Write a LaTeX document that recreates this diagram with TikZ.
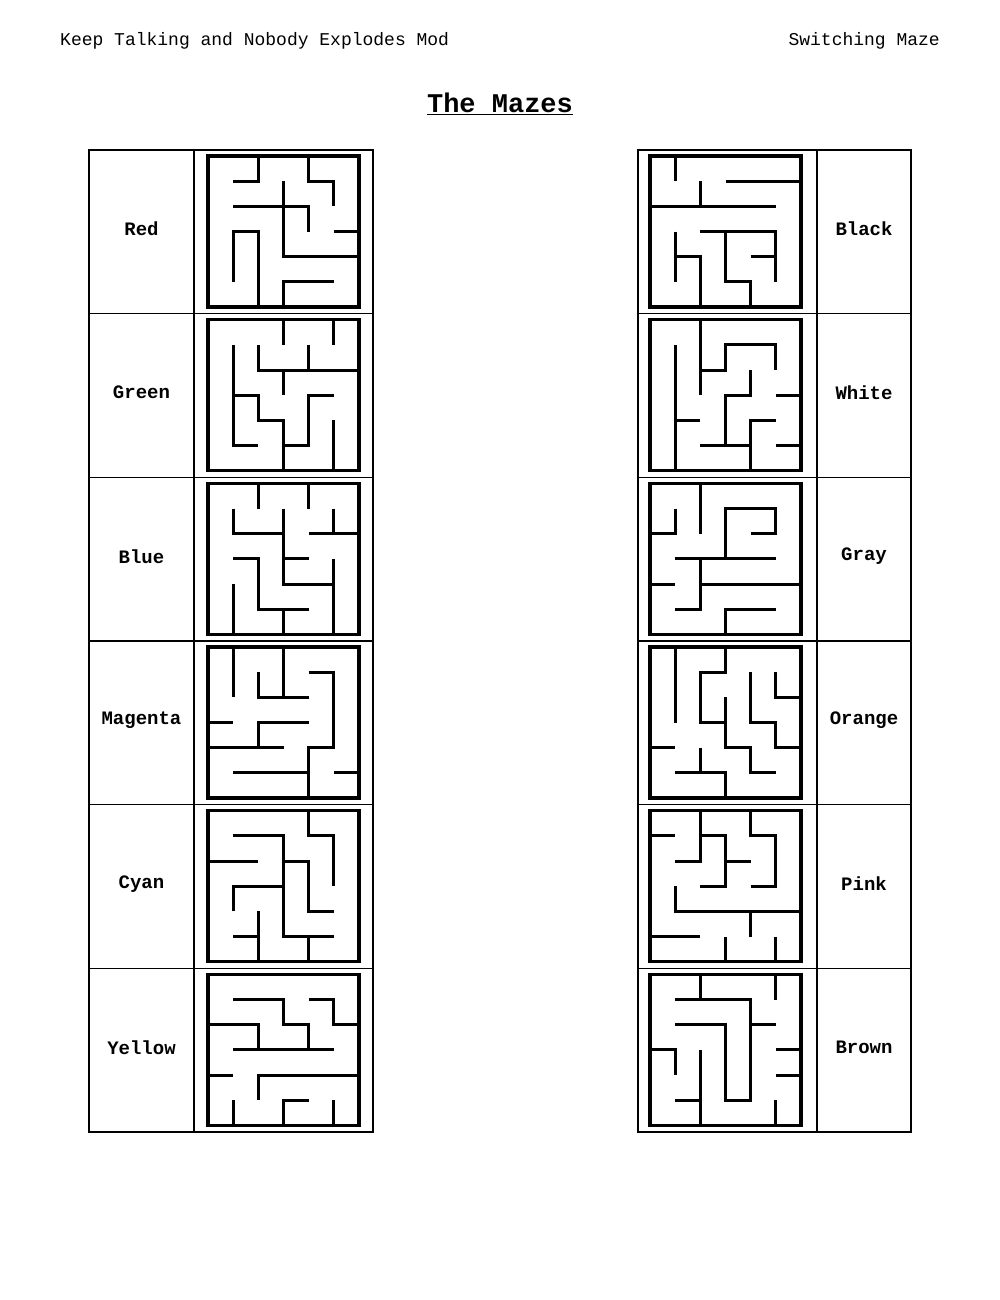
\documentclass[tikz,border=0pt]{standalone}
\usepackage{fontspec}
\setmainfont{Liberation Mono}
\begin{document}
\begin{tikzpicture}[x=1pt,y=-1pt,
  tbl/.style={line width=1.4pt},
  wall/.style={line width=3pt,line join=miter},
  border/.style={line width=3.4pt},
  hdr/.style={inner sep=0pt,font=\fontsize{18}{20}\selectfont},
  lbl/.style={inner sep=0pt,font=\fontsize{19}{21}\selectfont\bfseries},
  ttl/.style={inner sep=0pt,font=\fontsize{27}{30}\selectfont\bfseries}]
\useasboundingbox (0,0) rectangle (1000,1300);
\fill[white] (0,0) rectangle (1000,1300);
\newcommand\mz[3]{%
  \begin{scope}[shift={(#1,#2)},x=25.167pt,y=-25.167pt]
    \draw[wall] #3;
    \draw[border] (0,0) rectangle (6,6);
  \end{scope}}
% header
\node[hdr,anchor=west] (hl) at (60,41) {Keep Talking and Nobody Explodes Mod};
\node[hdr,anchor=east] (hr) at (940,41) {Switching Maze};
\node[ttl] (title) at (500,104) {\underline{The Mazes}};
% tables
\foreach \x/\xa/\xb in {89/194/373, 638/817/911}{
  \draw[tbl] (\x,150) rectangle (\xb,1132);
  \draw[tbl] (\xa,150) -- (\xa,1132);
  \foreach \i in {1,...,5}{
    \draw[tbl] (\x,150+\i*163.667) -- (\xb,150+\i*163.667);
  }
}
% labels
\node[lbl] (red) at (141.5,229) {Red};
\node[lbl] (green) at (141.5,392.7) {Green};
\node[lbl] (blue) at (141.5,556.3) {Blue};
\node[lbl] (magenta) at (141.5,720) {Magenta};
\node[lbl] (cyan) at (141.5,883.7) {Cyan};
\node[lbl] (yellow) at (141.5,1047.3) {Yellow};
\node[lbl] (black) at (864,229) {Black};
\node[lbl] (white) at (864,392.7) {White};
\node[lbl] (gray) at (864,556.3) {Gray};
\node[lbl] (orange) at (864,720) {Orange};
\node[lbl] (pink) at (864,883.7) {Pink};
\node[lbl] (brown) at (864,1047.3) {Brown};
% Red
\mz{208}{156}{(1,1)--(2,1)--(2,0) (4,0)--(4,1)--(5,1)--(5,2) (3,1)--(3,4)--(6,4)
  (1,2)--(4,2)--(4,3) (5,3)--(6,3) (1,5)--(1,3)--(2,3)--(2,6) (3,6)--(3,5)--(5,5)}
% Green
\mz{208}{319.67}{(3,0)--(3,1) (5,0)--(5,1) (2,1)--(2,2)--(6,2) (4,1)--(4,2)
  (1,1)--(1,5)--(2,5) (3,2)--(3,3) (1,3)--(2,3)--(2,4)--(3,4)--(3,6)
  (5,3)--(4,3)--(4,5)--(3,5) (5,4)--(5,6)}
% Blue
\mz{208}{483.33}{(2,0)--(2,1) (4,0)--(4,1) (1,1)--(1,2)--(3,2) (3,1)--(3,4)--(5,4)
  (3,3)--(4,3) (4,2)--(6,2) (5,1)--(5,2) (1,3)--(2,3)--(2,5)--(4,5)
  (1,4)--(1,6) (3,5)--(3,6) (5,3)--(5,6)}
% Magenta
\mz{208}{647}{(1,0)--(1,2) (3,0)--(3,2) (2,1)--(2,2)--(4,2)
  (4,1)--(5,1)--(5,4)--(4,4)--(4,6) (0,3)--(1,3) (4,3)--(2,3)--(2,4)
  (0,4)--(3,4) (1,5)--(4,5) (5,5)--(6,5)}
% Cyan
\mz{208}{810.67}{(4,0)--(4,1)--(5,1)--(5,3) (1,1)--(3,1)--(3,5)--(5,5) (0,2)--(2,2)
  (3,2)--(4,2)--(4,4)--(5,4) (1,4)--(1,3)--(3,3) (2,4)--(2,6) (1,5)--(2,5) (4,5)--(4,6)}
% Yellow
\mz{208}{974.33}{(1,1)--(3,1)--(3,2)--(4,2)--(4,3) (4,1)--(5,1)--(5,2)--(6,2)
  (0,2)--(2,2)--(2,3) (1,3)--(5,3) (0,4)--(1,4) (2,5)--(2,4)--(6,4)
  (1,5)--(1,6) (3,6)--(3,5)--(4,5) (5,5)--(5,6)}
% Black
\mz{650}{156}{(1,0)--(1,1) (2,1)--(2,2) (3,1)--(6,1) (0,2)--(5,2) (1,3)--(1,5)
  (1,4)--(2,4)--(2,6) (2,3)--(5,3)--(5,5) (3,3)--(3,5)--(4,5)--(4,6) (4,4)--(5,4)}
% White
\mz{650}{319.67}{(2,0)--(2,3) (2,2)--(3,2)--(3,1)--(5,1)--(5,2) (1,1)--(1,6)
  (4,2)--(4,3)--(3,3)--(3,5) (5,3)--(6,3) (1,4)--(2,4) (2,5)--(4,5)
  (5,4)--(4,4)--(4,6) (5,5)--(6,5)}
% Gray
\mz{650}{483.33}{(1,1)--(1,2)--(0,2) (2,0)--(2,2) (4,2)--(5,2)--(5,1)--(3,1)--(3,3)
  (1,3)--(5,3) (1,5)--(2,5)--(2,3) (0,4)--(1,4) (2,4)--(6,4) (3,6)--(3,5)--(5,5)}
% Orange
\mz{650}{647}{(1,0)--(1,3) (3,0)--(3,1)--(2,1)--(2,3)--(3,3)
  (3,2)--(3,4)--(4,4)--(4,5)--(5,5) (4,1)--(4,3)--(5,3)--(5,4)--(6,4)
  (5,1)--(5,2)--(6,2) (0,4)--(1,4) (2,4)--(2,5) (1,5)--(3,5)--(3,6)}
% Pink
\mz{650}{810.67}{(0,1)--(1,1) (2,0)--(2,2)--(1,2) (2,1)--(3,1)--(3,3)--(2,3) (3,2)--(4,2)
  (4,0)--(4,1)--(5,1)--(5,3)--(4,3) (1,3)--(1,4)--(6,4) (4,4)--(4,5)
  (0,5)--(2,5) (3,5)--(3,6) (5,5)--(5,6)}
% Brown
\mz{650}{974.33}{(2,0)--(2,1) (1,1)--(4,1)--(4,5)--(3,5)--(3,2)--(1,2) (5,0)--(5,1)
  (4,2)--(5,2) (0,3)--(1,3)--(1,4) (2,3)--(2,6) (5,3)--(6,3) (5,4)--(6,4)
  (1,5)--(2,5) (5,5)--(5,6)}
\end{tikzpicture}
\end{document}
